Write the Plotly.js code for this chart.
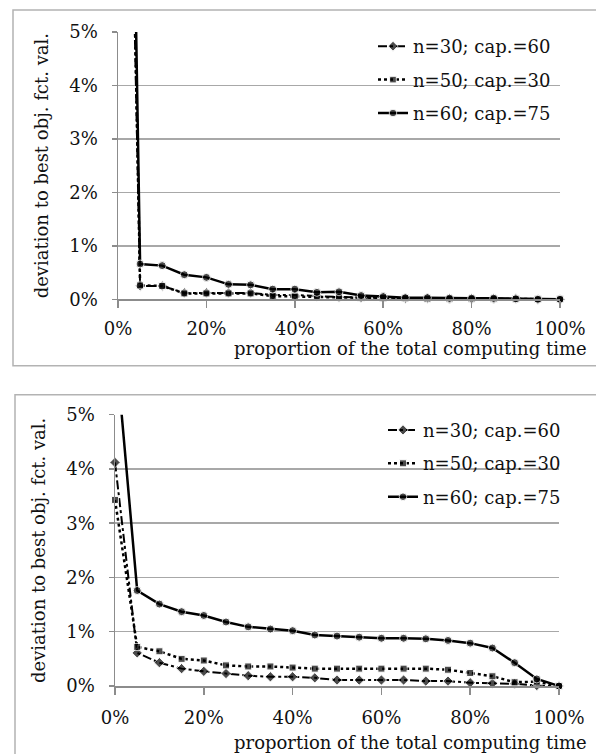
<!DOCTYPE html>
<html><head><meta charset="utf-8">
<script src="https://cdn.plot.ly/plotly-3.0.1.min.js"></script>
<style>html,body{margin:0;padding:0;background:#fff;}#chart{width:596px;height:754px;}</style>
</head><body><div id="chart"></div>
<script>
// ---- data ----
const proportion = [0,5,10,15,20,25,30,35,40,45,50,55,60,65,70,75,80,85,90,95,100];
const seriesNames = ['n=30; cap.=60','n=50; cap.=30','n=60; cap.=75'];
// top panel (% deviation)
const topN30 = [20, 0.25, 0.25, 0.12, 0.12, 0.12, 0.12, 0.08, 0.08, 0.06, 0.04, 0.03, 0.03, 0.02, 0.02, 0.01, 0.01, 0.01, 0.01, 0, 0];
const topN50 = [22, 0.26, 0.25, 0.11, 0.11, 0.11, 0.11, 0.06, 0.05, 0.05, 0.04, 0.03, 0.02, 0.02, 0.01, 0.01, 0.01, 0.01, 0.01, 0, 0];
const topN60 = [25, 0.66, 0.63, 0.46, 0.41, 0.28, 0.27, 0.19, 0.19, 0.13, 0.14, 0.07, 0.05, 0.03, 0.03, 0.02, 0.02, 0.02, 0.01, 0, 0];
// bottom panel (% deviation)
const botN30 = [4.12, 0.61, 0.43, 0.32, 0.27, 0.23, 0.19, 0.17, 0.17, 0.15, 0.11, 0.11, 0.11, 0.11, 0.09, 0.09, 0.06, 0.05, 0.04, 0.01, 0];
const botN50 = [3.43, 0.72, 0.64, 0.50, 0.47, 0.38, 0.36, 0.36, 0.34, 0.32, 0.32, 0.32, 0.32, 0.32, 0.32, 0.30, 0.24, 0.18, 0.07, 0.08, 0];
const botN60 = [6.4, 1.76, 1.51, 1.37, 1.30, 1.18, 1.09, 1.05, 1.02, 0.94, 0.92, 0.90, 0.88, 0.88, 0.87, 0.84, 0.79, 0.70, 0.43, 0.13, 0];
const xTickVals = [0,20,40,60,80,100];
const yTickVals = [0,1,2,3,4,5];
const xTitle = 'proportion of the total computing time';
const yTitle = 'deviation to best obj. fct. val.';

// ---- geometry helpers ----
const W = 596, H = 754, M = {l:115, r:36, t:32, b:67.5};
const px = x => (x - M.l) / (W - M.l - M.r);
const py = y => (H - M.b - y) / (H - M.t - M.b);
const YMAX = 5;

const FONT = 'DejaVu Serif';
const styles = [
  {dash:'dashdot', symbol:'diamond', size:8, width:2},
  {dash:'dot', symbol:'square', size:7, width:2.5},
  {dash:'solid', symbol:'circle', size:8, width:2.5}
];

function mk(vals, i, xa, ya, leg){
  const s = styles[i];
  return {
    type:'scatter', mode:'lines+markers', x: proportion, y: vals,
    name: seriesNames[i], xaxis: xa, yaxis: ya, legend: leg,
    legendgroup: leg + i, cliponaxis: false,
    line:{color:'#000', width:s.width, dash:s.dash},
    marker:{color:'#000', symbol:s.symbol, size: vals.map(v => v > YMAX ? 0 : s.size)}
  };
}
const data = [
  mk(topN30,0,'x','y','legend'), mk(topN50,1,'x','y','legend'), mk(topN60,2,'x','y','legend'),
  mk(botN30,0,'x2','y2','legend2'), mk(botN50,1,'x2','y2','legend2'), mk(botN60,2,'x2','y2','legend2')
];

const axisLine = '#8c8c8c', gridC = '#a8a8a8';
function xa(domain, anchor, standoff){
  return {domain, anchor, range:[0,100], tickvals:xTickVals, ticktext:xTickVals.map(v=>v+'%'),
    showgrid:false, zeroline:false, showline:true, linecolor:axisLine, linewidth:1.5,
    ticks:'outside', ticklen:7, tickcolor:axisLine, tickwidth:1.5, ticklabelstandoff:standoff,
    tickfont:{family:FONT, size:18, color:'#111'}, fixedrange:true};
}
function ya(domain, anchor){
  return {domain, anchor, range:[0,5], tickvals:yTickVals, ticktext:yTickVals.map(v=>v+'%'),
    showgrid:true, gridcolor:gridC, gridwidth:1.5, zeroline:false, showline:true, linecolor:axisLine, linewidth:1.5,
    ticks:'outside', ticklen:5, tickcolor:axisLine, tickwidth:1.5, ticklabelstandoff:10,
    tickfont:{family:FONT, size:18, color:'#111'},
    title:{text:yTitle, font:{family:FONT, size:18, color:'#111'}, standoff:16}, fixedrange:true};
}

const legendBase = {bgcolor:'rgba(0,0,0,0)', borderwidth:0, font:{family:FONT, size:18, color:'#111'},
  tracegroupgap:7, traceorder:'grouped', xanchor:'left', yanchor:'top'};

const layout = {
  width:W, height:H, margin:{l:M.l, r:M.r, t:M.t, b:M.b, pad:0},
  paper_bgcolor:'#fff', plot_bgcolor:'rgba(0,0,0,0)',
  font:{family:FONT, size:18, color:'#111'},
  showlegend:true,
  xaxis: xa([px(118), 1], 'y', 6),
  yaxis: ya([py(299.5), 1], 'x'),
  xaxis2: xa([0, px(559)], 'y2', 8),
  yaxis2: ya([0, py(415)], 'x2'),
  legend: Object.assign({x:px(373), y:py(28)}, legendBase),
  legend2: Object.assign({x:px(383), y:py(412)}, legendBase),
  shapes:[
    {type:'rect', xref:'paper', yref:'paper', x0:px(13), x1:px(610), y0:py(366), y1:py(10),
      line:{color:'#b3b3b3', width:1.5}, layer:'below'},
    {type:'rect', xref:'paper', yref:'paper', x0:px(15), x1:px(610), y0:py(770), y1:py(395),
      line:{color:'#b3b3b3', width:1.5}, layer:'below'}
  ],
  annotations:[
    {text:xTitle, xref:'paper', yref:'paper', x:px(589), y:py(349), xanchor:'right', yanchor:'middle',
      showarrow:false, font:{family:FONT, size:18, color:'#111'}},
    {text:xTitle, xref:'paper', yref:'paper', x:px(589), y:py(743), xanchor:'right', yanchor:'middle',
      showarrow:false, font:{family:FONT, size:18, color:'#111'}}
  ]
};

Plotly.newPlot('chart', data, layout, {displayModeBar:false, staticPlot:true});
</script>
</body></html>
